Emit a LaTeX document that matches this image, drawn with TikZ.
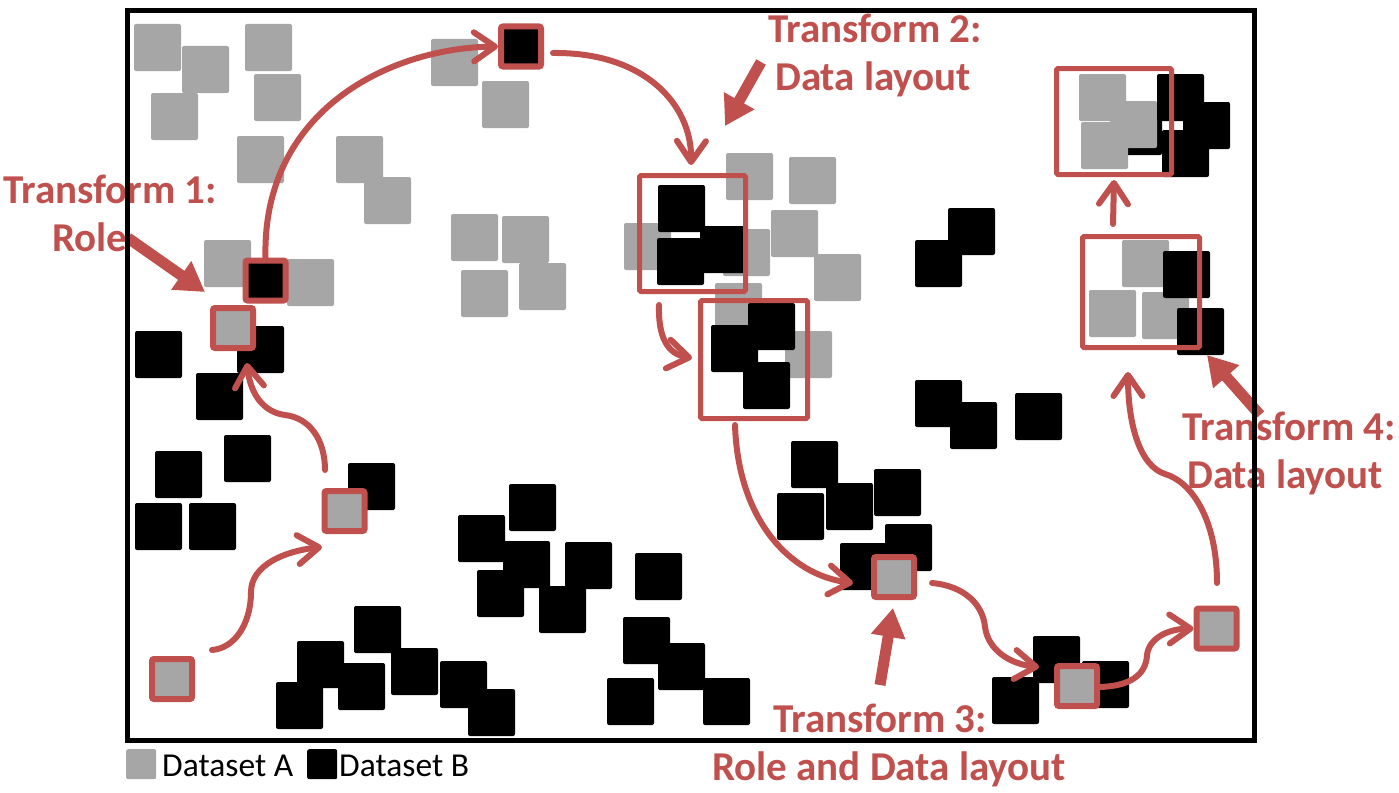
\documentclass[tikz,border=0pt]{standalone}
\usepackage{fontspec}
\setmainfont{Carlito}
\usetikzlibrary{arrows.meta}
\definecolor{rd}{HTML}{C0504D}
\definecolor{gr}{HTML}{A6A6A6}
\begin{document}
\begin{tikzpicture}[x=1pt,y=-1pt,
  sq/.style={anchor=north west, minimum size=47pt, inner sep=0pt, outer sep=0pt, rounded corners=2pt},
  sqa/.style={sq, fill=gr},
  sqb/.style={sq, fill=black},
  hl/.style={draw=rd, line width=6pt, minimum size=40pt, inner sep=0pt, rounded corners=2pt},
  rbox/.style={draw=rd, line width=5pt, anchor=north west, inner sep=0pt, rounded corners=1.5pt},
  carrow/.style={draw=rd, line width=6pt, line cap=round, -{Straight Barb[length=21pt,width=29pt,round]}},
  tarrow/.style={draw=rd, line width=11pt, -{Triangle[length=29pt,width=33pt]}},
  lbl/.style={text=rd, font=\fontsize{41}{42}\selectfont\bfseries, anchor=base west, inner sep=0pt},
  leg/.style={font=\fontsize{33.5}{35}\selectfont, anchor=base west, inner sep=0pt},
  legsq/.style={anchor=north west, minimum size=30pt, inner sep=0pt, rounded corners=2pt}]
\useasboundingbox (0,0) rectangle (1399,792);
\fill[white] (0,0) rectangle (1399,792);

% hidden black square behind the grays in the top-right group
\node[sqb] (bh) at (1115,108) {};

% Dataset A squares
\foreach \p [count=\i] in {(134,24),(182,46),(245,24),(151,93),(254,74),(237,136),(336,136),(364,177),
  (431,39),(482,81),(451,214),(502,216),(461,270),(519,263),(204,240),(287,259),
  (726,153),(789,157),(771,210),(814,254),(624,223),(723,229),(715,283),(785,331),
  (1079,74),(1110,101),(1081,122),(1122,240),(1089,290),(1142,292)}
  \node[sqa] (ga\i) at \p {};

% Dataset B squares
\foreach \p [count=\i] in {(135,331),(237,326),(196,373),(224,435),(155,451),(135,503),(189,503),(348,463),
  (509,484),(458,515),(503,541),(477,570),(565,542),(539,586),(635,553),(623,617),(658,643),(607,678),(703,678),
  (354,606),(297,641),(338,663),(276,682),(391,648),(440,661),(468,689),
  (658,185),(657,238),(700,226),
  (748,303),(711,325),(743,362),
  (948,208),(915,240),(915,380),(950,402),(1015,393),
  (791,441),(874,469),(826,483),(777,493),(885,524),(840,543),
  (1033,636),(992,677),(1082,661),
  (1157,74),(1183,102),(1162,130),
  (1163,251),(1177,308)}
  \node[sqb] (gb\i) at \p {};

% highlighted squares
\node[hl, fill=black] (h1) at (265.5,280.5) {};
\node[hl, fill=black] (h2) at (521,46.5) {};
\node[hl, fill=gr] (h3) at (233,328) {};
\node[hl, fill=gr] (h4) at (344.5,511) {};
\node[hl, fill=gr] (h5) at (172,679) {};
\node[hl, fill=gr] (h6) at (894,577) {};
\node[hl, fill=gr] (h7) at (1077,686) {};
\node[hl, fill=gr] (h8) at (1216.5,628.5) {};

% red group boxes
\node[rbox, minimum width=106pt, minimum height=116pt] (r1) at (637,173) {};
\node[rbox, minimum width=107pt, minimum height=118pt] (r2) at (698,298) {};
\node[rbox, minimum width=115pt, minimum height=106pt] (r3) at (1054,66) {};
\node[rbox, minimum width=117pt, minimum height=111pt] (r4) at (1080,234) {};

% curved arrow end points
\coordinate (a1s) at (212,650); \coordinate (a1m) at (251,592); \coordinate (a1e) at (322,547);
\coordinate (a2s) at (325,470); \coordinate (a2m) at (285,415); \coordinate (a2e) at (247,363);
\coordinate (a4s) at (553,53);  \coordinate (a4e) at (691,165);
\coordinate (a5s) at (659,305); \coordinate (a5e) at (692,358);
\coordinate (a6s) at (735,425); \coordinate (a6e) at (853,583);
\coordinate (a7s) at (932,583); \coordinate (a7m) at (985,627); \coordinate (a7e) at (1039,667);
\coordinate (a8s) at (1100,687); \coordinate (a8m) at (1147,655);
\coordinate (a9s) at (1217,583); \coordinate (a9m) at (1165,474); \coordinate (a9e) at (1128,372);
\coordinate (a10s) at (1113,224); \coordinate (a10e) at (1114,180);

\draw[carrow] (a1s) .. controls (236,648) and (251,622) .. (a1m) .. controls (251,565) and (285,551) .. (a1e);
\draw[carrow] (a2s) .. controls (325,440) and (310,418) .. (a2m) .. controls (262,412) and (250,392) .. (a2e);
\draw[carrow] (h1.north) .. controls (262,110) and (390,48) .. (h2.west);
\draw[carrow] (a4s) .. controls (645,52) and (692,105) .. (a4e);
\draw[carrow] (a5s) .. controls (658,338) and (668,354) .. (a5e);
\draw[carrow] (a6s) .. controls (738,520) and (790,575) .. (a6e);
\draw[carrow] (a7s) .. controls (965,586) and (983,605) .. (a7m) .. controls (988,650) and (1010,664) .. (a7e);
\draw[carrow] (a8s) .. controls (1130,686) and (1146,675) .. (a8m) .. controls (1149,638) and (1168,629) .. (h8.west);
\draw[carrow] (a9s) .. controls (1217,520) and (1192,482) .. (a9m) .. controls (1140,466) and (1128,425) .. (a9e);
\draw[carrow] (a10s) -- (a10e);

% straight thick arrows
\coordinate (t1s) at (128,238); \coordinate (t1e) at (205,292);
\coordinate (t2s) at (761,62);  \coordinate (t2e) at (725,126);
\coordinate (t3s) at (880,685); \coordinate (t3e) at (893,608);
\coordinate (t4s) at (1260,415); \coordinate (t4e) at (1207,355);
\draw[tarrow] (t1s) -- (t1e);
\draw[tarrow] (t2s) -- (t2e);
\draw[tarrow] (t3s) -- (t3e);
\draw[tarrow] (t4s) -- (t4e);

% labels
\node[lbl] (l1a) at (3,203) {Transform 1:};
\node[lbl] (l1b) at (52,251) {Role};
\node[lbl] (l2a) at (768,42) {Transform 2:};
\node[lbl] (l2b) at (775,90) {Data layout};
\node[lbl] (l3a) at (773,732) {Transform 3:};
\node[lbl] (l3b) at (712,780) {Role and Data layout};
\node[lbl] (l4a) at (1182,440) {Transform 4:};
\node[lbl] (l4b) at (1187,488) {Data layout};

% legend
\node[legsq, fill=gr] (lga) at (126,749) {};
\node[leg] (lta) at (162,776) {Dataset A};
\node[legsq, fill=black] (lgb) at (307,749) {};
\node[leg] (ltb) at (339,776) {Dataset B};

% frame
\draw[line width=5pt] (127,11) rectangle (1254,740);
\end{tikzpicture}
\end{document}
